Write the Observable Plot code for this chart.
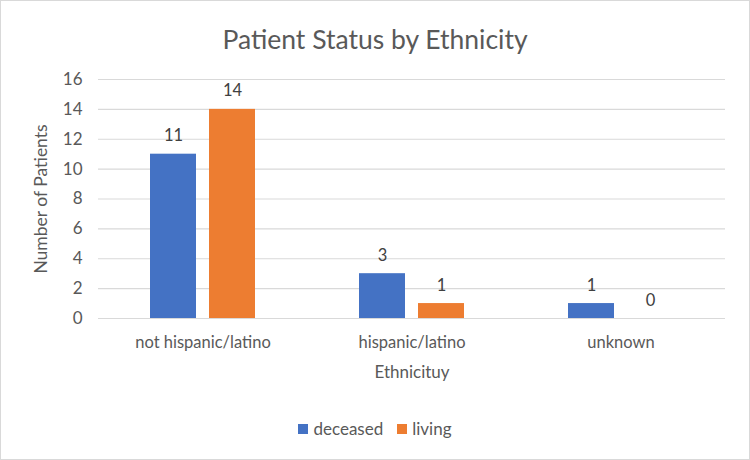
<!DOCTYPE html>
<html>
<head>
<meta charset="utf-8">
<script src="https://cdn.jsdelivr.net/npm/d3@7"></script>
<script src="https://cdn.jsdelivr.net/npm/@observablehq/plot@0.6"></script>
<style>
  html, body { margin: 0; padding: 0; background: #fff; }
  #chart {
    width: 748px; height: 458px;
    border: 1px solid #d9d9d9;
    font-family: Lato, "Open Sans", sans-serif;
    color: #595959;
    position: relative;
    overflow: hidden;
  }
  #title {
    height: 60px; line-height: 76px;
    text-align: center; font-size: 26.5px; color: #595959;
  }
  #legend {
    display: flex; justify-content: center; align-items: center;
    gap: 14px; margin-top: 22px; font-size: 17px; color: #595959;
  }
  #legend .item { display: flex; align-items: center; gap: 5px; }
  #legend .sw { width: 10px; height: 10px; display: inline-block; }
  svg { display: block; }
  .patients [aria-label="y-axis tick label"] { font-size: 17px; }
  .patients [aria-label="fx-axis tick label"] { font-size: 16.5px; }
  .patients [aria-label="y-axis label"] { font-size: 17.5px; }
  .patients [aria-label="fx-axis label"] { font-size: 17px; }
  .patients [aria-label="text"] { font-size: 16.5px; }
</style>
</head>
<body>
<div id="chart">
  <div id="title">Patient Status by Ethnicity</div>
  <div id="plot"></div>
  <div id="legend"></div>
</div>
<script>
// Patient counts by ethnicity and status
const ethnicities = ["not hispanic/latino", "hispanic/latino", "unknown"];
const statuses = ["deceased", "living"];
const deceased = [11, 3, 1];
const living = [14, 1, 0];
const yTicks = [0, 2, 4, 6, 8, 10, 12, 14, 16];
const colors = ["#4472C4", "#ED7D31"];

const rows = ethnicities.flatMap((e, i) => [
  {ethnicity: e, status: "deceased", value: deceased[i]},
  {ethnicity: e, status: "living", value: living[i]}
]);

const chart = Plot.plot({
  className: "patients",
  width: 748,
  height: 335,
  marginTop: 18,
  marginBottom: 78,
  marginLeft: 96,
  marginRight: 24,
  style: {fontFamily: "Lato, 'Open Sans', sans-serif", color: "#595959", background: "transparent"},
  fx: {domain: ethnicities, padding: 0, label: null},
  x: {domain: statuses, axis: null, paddingInner: 13 / 60, paddingOuter: 52 / 60},
  y: {domain: [0, 16]},
  color: {domain: statuses, range: colors},
  marks: [
    Plot.gridY(yTicks, {stroke: "#d9d9d9", strokeOpacity: 1, strokeWidth: 1.2}),
    Plot.axisY(yTicks, {
      tickSize: 0, tickPadding: 16, fill: "#595959",
      label: "Number of Patients", labelAnchor: "center", labelArrow: "none", labelOffset: 64
    }),
    Plot.axisFx({
      anchor: "bottom",
      tickSize: 0, tickPadding: 18, fill: "#595959",
      label: "Ethnicituy", labelAnchor: "center", labelArrow: "none", labelOffset: 59
    }),
    Plot.barY(rows, {fx: "ethnicity", x: "status", y: "value", fill: "status"}),
    Plot.text(rows, {
      fx: "ethnicity", x: "status", y: "value", text: d => String(d.value),
      lineAnchor: "bottom", dy: -13, fill: "#404040"
    })
  ]
});
document.getElementById("plot").appendChild(chart);

// Legend below the plot
const legend = document.getElementById("legend");
statuses.forEach((s, i) => {
  const item = document.createElement("span");
  item.className = "item";
  const sw = document.createElement("span");
  sw.className = "sw";
  sw.style.background = colors[i];
  const label = document.createElement("span");
  label.textContent = s;
  item.appendChild(sw);
  item.appendChild(label);
  legend.appendChild(item);
});
</script>
</body>
</html>
